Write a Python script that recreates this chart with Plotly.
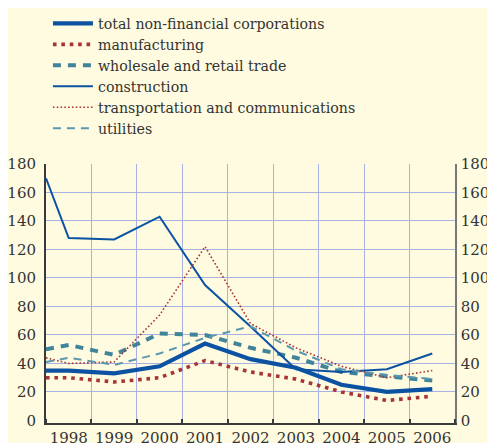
import plotly.graph_objects as go

# x positions: first point sits at the left edge of the axis (half-year before 1998)
x_pos = [1997.5, 1998, 1999, 2000, 2001, 2002, 2003, 2004, 2005, 2006]
years = [1998, 1999, 2000, 2001, 2002, 2003, 2004, 2005, 2006]
year_labels = [str(y) for y in years]

total = [35, 35, 33, 38, 54, 43, 37, 25, 20, 22]
manufacturing = [30, 30, 27, 30, 42, 34, 29, 20, 14, 17]
wholesale = [50, 53, 46, 61, 60, 51, 44, 34, 31, 28]
construction = [170, 128, 127, 143, 95, 66, 36, 34, 36, 47]
transport = [44, 40, 41, 74, 122, 68, 51, 38, 30, 35]
utilities = [41, 44, 39, 47, 58, 66, 49, 36, 32, 29]

y_ticks = [0, 20, 40, 60, 80, 100, 120, 140, 160, 180]

BLUE = "#0B52A2"
RED = "#A83434"
TEAL = "#3F8499"
TEAL2 = "#5B97AE"
BG = "#FFFBE1"
GRID = "#A7B2E2"
AX = "#3A3A3A"
FONT = "DejaVu Serif"
TXT = "#333333"

series = [
    ("total non-financial corporations", total, dict(color=BLUE, width=4.2)),
    ("manufacturing", manufacturing, dict(color=RED, width=3.6, dash="3.6px,4.8px")),
    ("wholesale and retail trade", wholesale, dict(color=TEAL, width=4, dash="8px,7px")),
    ("construction", construction, dict(color=BLUE, width=2)),
    ("transportation and communications", transport, dict(color=RED, width=1.6, dash="1.6px,2.2px")),
    ("utilities", utilities, dict(color=TEAL2, width=2, dash="8px,6px")),
]

fig = go.Figure()
for name, vals, line in series:
    fig.add_trace(go.Scatter(x=x_pos, y=vals, mode="lines",
                             name='<span style="font-size:14.2px">' + name + '</span>',
                             line=line, hoverinfo="skip"))

# invisible trace on the right axis so it gets drawn
fig.add_trace(go.Scatter(x=x_pos, y=total, yaxis="y2", mode="lines",
                         line=dict(width=0), showlegend=False, hoverinfo="skip",
                         opacity=0))

yrange = [-1.8, 180]
tickfont = dict(family=FONT, size=15, color=TXT)
fig.update_layout(
    width=487, height=435,
    margin=dict(l=38, r=40, t=156, b=20, autoexpand=False),
    paper_bgcolor=BG, plot_bgcolor=BG,
    font=dict(family=FONT, size=15, color=TXT),
    showlegend=True,
    legend=dict(x=0.082, y=1.0, xanchor="left", yanchor="top", yref="container",
                xref="container",
                bgcolor="rgba(0,0,0,0)", font=dict(family=FONT, size=13.8, color=TXT),
                tracegroupgap=0, itemwidth=40, traceorder="normal"),
    xaxis=dict(range=[1997.5, 2006.5], tickvals=years, ticktext=year_labels,
               automargin=False,
               showgrid=False, zeroline=False, showline=True, linecolor=AX, linewidth=2,
               ticks="", tickfont=tickfont,
               minor=dict(tickvals=[y + 0.5 for y in [1997] + years], showgrid=True,
                          gridcolor=GRID, gridwidth=1.3, ticks="inside", ticklen=4,
                          tickcolor=AX, tickwidth=1.5)),
    yaxis=dict(range=yrange, tickvals=y_ticks, showgrid=False, zeroline=False,
               automargin=False, tickfont=tickfont,
               showline=True, linecolor=AX, linewidth=2, ticks="",
               ticklabelstandoff=5,
               minor=dict(tickvals=y_ticks[1:], showgrid=True, gridcolor=GRID, gridwidth=1.3)),
    yaxis2=dict(range=yrange, tickvals=y_ticks, overlaying="y", side="right",
                automargin=False, tickfont=tickfont,
                showgrid=False, zeroline=False, showline=True, linecolor="#777777",
                linewidth=1.5, ticks="", ticklabelstandoff=1),
)

fig.write_html("out.html")
